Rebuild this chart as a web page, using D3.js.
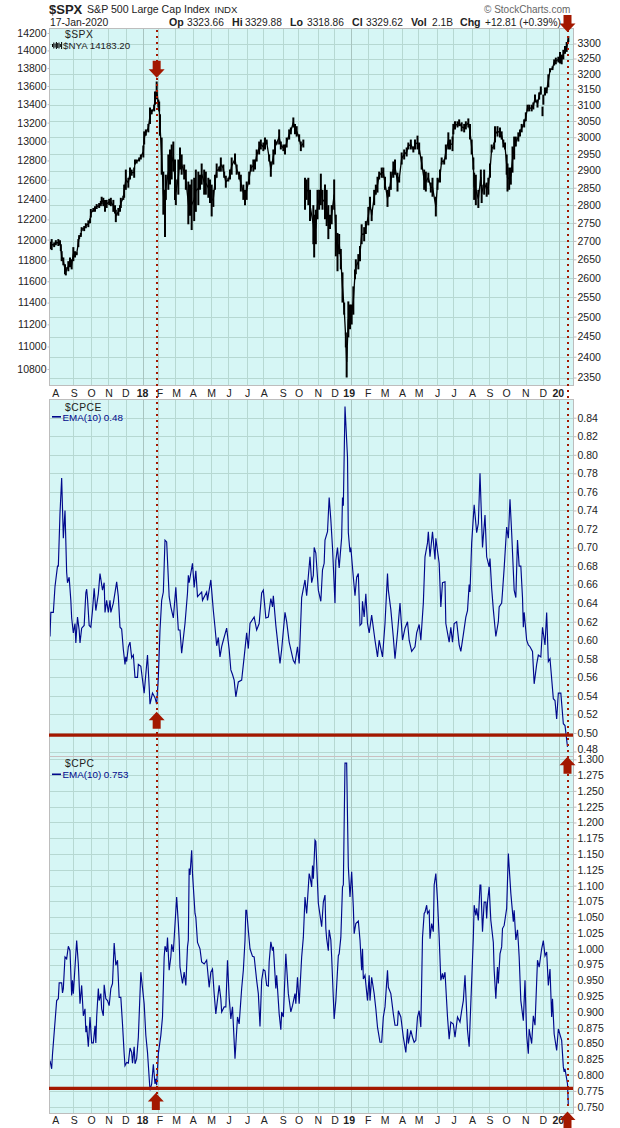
<!DOCTYPE html>
<html>
<head>
<meta charset="utf-8">
<title>$SPX with $CPCE and $CPC</title>
<script src="https://cdn.jsdelivr.net/npm/d3@7"></script>
<style>
  html, body { margin: 0; padding: 0; background: #fff; }
  svg { display: block; }
  text { font-family: "Liberation Sans", Arial, sans-serif; fill: #222; }
</style>
</head>
<body>
<svg id="chart" width="620" height="1128"></svg>
<script>
// Month gridlines and labels, in trading sessions from the left edge of the chart
const gridDays = [28, 49, 70, 91, 111, 129, 150, 171, 193, 214, 236, 256, 279, 298,
  321, 341, 361, 381, 400, 422, 442, 464, 484, 506, 527, 548, 571, 591, 611];
const yearDays = [111, 361, 611];
const monthLabelDays = [7, 29, 50, 71, 91, 111, 132, 152, 172, 194, 215, 237, 257, 280, 299,
  322, 342, 359, 382, 402, 423, 443, 465, 485, 507, 528, 548, 571, 592, 610];
const monthLabels = ["A", "S", "O", "N", "D", "18", "F", "M", "A", "M", "J", "J", "A", "S", "O",
  "N", "D", "19", "F", "M", "A", "M", "J", "J", "A", "S", "O", "N", "D", "20"];
const yearLabels = ["18", "19", "20"];

// Axis ticks
const spxTicks = [3300, 3250, 3200, 3150, 3100, 3050, 3000, 2950, 2900, 2850, 2800, 2750, 2700,
  2650, 2600, 2550, 2500, 2450, 2400, 2350];
const nyaTicks = [14200, 14000, 13800, 13600, 13400, 13200, 13000, 12800, 12600, 12400, 12200,
  12000, 11800, 11600, 11400, 11200, 11000, 10800];
const cpceTicks = [0.84, 0.82, 0.80, 0.78, 0.76, 0.74, 0.72, 0.70, 0.68, 0.66, 0.64, 0.62, 0.60,
  0.58, 0.56, 0.54, 0.52, 0.50, 0.48];
const cpcTicks = [1.300, 1.275, 1.250, 1.225, 1.200, 1.175, 1.150, 1.125, 1.100, 1.075, 1.050,
  1.025, 1.000, 0.975, 0.950, 0.925, 0.900, 0.875, 0.850, 0.825, 0.800, 0.775, 0.750];

// $SPX daily range
const priceDay = [0, 2, 5, 7, 10, 12, 13, 14, 16, 18, 19, 22, 24, 26, 28, 30, 32, 34, 35, 37, 38, 41, 43, 46, 48, 49,
  52, 54, 56, 59, 61, 62, 64, 66, 68, 71, 73, 76, 78, 79, 82, 84, 85, 88, 89, 91, 94, 96, 98, 101, 102, 104, 107, 109,
  112, 113, 115, 118, 120, 122, 125, 126, 128, 130, 131, 132, 134, 136, 138, 139, 142, 144, 146, 148, 150, 151, 154,
  156, 158, 161, 163, 166, 168, 170, 173, 175, 178, 180, 182, 185, 187, 190, 192, 194, 196, 198, 200, 203, 205, 208,
  209, 211, 214, 216, 218, 222, 224, 227, 229, 232, 234, 236, 239, 241, 244, 246, 248, 251, 253, 256, 258, 260, 263,
  265, 268, 270, 272, 275, 277, 280, 282, 284, 287, 289, 292, 294, 296, 299, 301, 304, 306, 308, 310,
  312, 316, 317, 319, 321, 323, 325, 327, 330, 332, 334, 336, 338, 341, 343, 345, 347, 349, 351, 353, 355, 356, 358,
  360, 362, 364, 366, 367, 370, 372, 374, 377, 379, 382, 384, 386, 389, 391, 393, 395, 398, 400, 402, 405, 407, 409,
  412, 414, 417, 419, 422, 425, 428, 430, 433, 436, 438, 441, 443, 446, 449, 451, 454, 457, 459, 463, 465, 468, 470,
  473, 475, 478, 480, 483, 484, 486, 489, 491, 494, 497, 499, 502, 504, 506, 508, 509, 511, 514, 517, 518, 521, 524,
  526, 528, 530, 533, 534, 537, 540, 542, 544, 546, 548, 549, 551, 553, 555, 557, 559, 562, 564, 566, 569, 571, 573,
  575, 578, 580, 582, 585, 587, 589, 591, 592, 594, 596, 598, 600, 603, 605, 607, 610, 612, 614, 616, 618, 620, 622];
const priceHigh = [2698, 2705, 2696, 2702, 2705, 2702, 2691, 2672, 2655, 2637, 2629, 2645, 2655, 2650, 2683, 2672, 2669,
  2705, 2716, 2722, 2738, 2741, 2749, 2757, 2762, 2789, 2792, 2797, 2803, 2806, 2812, 2824, 2821, 2815, 2815, 2818,
  2821, 2815, 2800, 2787, 2792, 2800, 2821, 2827, 2859, 2903, 2879, 2909, 2903, 2909, 2933, 2933, 2939, 2948, 2975,
  3018, 3024, 3041, 3092, 3086, 3101, 3143, 3175, 3117, 3111, 3071, 2999, 2897, 2844, 2888, 2948, 2963, 2978, 2987,
  2933, 2874, 2933, 2969, 2948, 2918, 2903, 2868, 2859, 2874, 2879, 2903, 2897, 2888, 2921, 2903, 2897, 2879, 2874,
  2859, 2844, 2888, 2921, 2912, 2939, 2918, 2897, 2885, 2879, 2903, 2939, 2951, 2918, 2897, 2888, 2859, 2844, 2868,
  2897, 2918, 2933, 2933, 2963, 2987, 2993, 2984, 2999, 2993, 2948, 2927, 2963, 2993, 2987, 3024, 2987, 2978, 2978,
  2999, 3024, 3030, 3061, 3041, 3034, 3009, 2987, 2993, 2879, 2874, 2879,
  2844, 2800, 2773, 2787, 2844, 2844, 2891, 2844, 2859, 2844, 2800, 2773, 2800, 2874, 2773, 2722, 2719, 2678, 2615,
  2536, 2460, 2425, 2539, 2531, 2531, 2578, 2623, 2650, 2664, 2686, 2746, 2738, 2755, 2795, 2824, 2787, 2844, 2859,
  2882, 2897, 2909, 2909, 2882, 2844, 2853, 2897, 2927, 2933, 2894, 2882, 2954, 2963, 2969, 2984, 2993, 2972, 2993,
  3005, 2984, 2942, 2903, 2897, 2894, 2865, 2879, 2824, 2879, 2903, 2939, 2933, 2978, 3015, 2993, 3002, 3041, 3049,
  3049, 3055, 3046, 3041, 3049, 3058, 3041, 2993, 2939, 2894, 2888, 2844, 2903, 2859, 2903, 2865, 2879, 2921, 2978,
  2984, 3034, 3034, 3030, 3018, 2993, 2984, 2948, 2921, 2909, 2909, 2972, 3002, 3002, 3015, 3024, 3041, 3055, 3077,
  3101, 3101, 3101, 3108, 3133, 3117, 3140, 3159, 3095, 3133, 3156, 3156, 3198, 3218, 3224, 3247, 3253, 3256, 3272,
  3263, 3279, 3292, 3305, 3325];
const priceLow = [2678, 2675, 2683, 2688, 2686, 2688, 2672, 2645, 2634, 2610, 2607, 2618, 2629, 2623, 2645, 2655, 2661,
  2683, 2705, 2711, 2727, 2727, 2735, 2738, 2749, 2765, 2781, 2781, 2789, 2792, 2797, 2803, 2797, 2781, 2792, 2800,
  2797, 2781, 2776, 2752, 2770, 2781, 2792, 2815, 2821, 2844, 2850, 2874, 2885, 2879, 2918, 2921, 2927, 2933, 2939,
  2978, 3005, 3015, 3041, 3071, 3080, 3101, 3118, 3092, 3080, 3005, 2888, 2773, 2711, 2815, 2844, 2859, 2874, 2897,
  2815, 2800, 2830, 2903, 2888, 2874, 2844, 2746, 2770, 2730, 2755, 2781, 2800, 2844, 2859, 2830, 2830, 2821, 2806,
  2768, 2795, 2844, 2879, 2897, 2897, 2897, 2879, 2850, 2868, 2874, 2888, 2918, 2888, 2874, 2839, 2815, 2800, 2815,
  2859, 2897, 2897, 2903, 2927, 2948, 2963, 2958, 2963, 2978, 2927, 2882, 2918, 2948, 2978, 2978, 2963, 2958, 2948,
  2969, 2993, 3009, 3030, 3009, 3002, 2987, 2958, 2969, 2787, 2815, 2800,
  2755, 2691, 2655, 2691, 2760, 2787, 2800, 2787, 2760, 2741, 2705, 2733, 2746, 2787, 2658, 2618, 2664, 2623, 2536,
  2505, 2423, 2350, 2448, 2468, 2480, 2505, 2597, 2610, 2623, 2645, 2691, 2699, 2719, 2743, 2787, 2755, 2800, 2830,
  2836, 2874, 2879, 2879, 2844, 2795, 2824, 2844, 2879, 2888, 2839, 2865, 2918, 2933, 2942, 2963, 2963, 2954, 2963,
  2963, 2948, 2903, 2844, 2839, 2865, 2836, 2824, 2768, 2844, 2865, 2918, 2918, 2933, 2963, 2963, 2958, 3009, 3024,
  3030, 3034, 3018, 3015, 3024, 3030, 2993, 2948, 2903, 2815, 2800, 2792, 2859, 2806, 2830, 2824, 2830, 2879, 2954,
  2963, 2984, 3002, 2999, 2993, 2969, 2963, 2888, 2839, 2844, 2859, 2894, 2933, 2972, 2987, 3002, 3015, 3030, 3049,
  3080, 3080, 3080, 3086, 3108, 3092, 3117, 3133, 3065, 3101, 3130, 3137, 3156, 3205, 3212, 3227, 3231, 3237, 3234,
  3231, 3247, 3266, 3272, 3305];
// Sessions where the bars in the picture jump without touching
const priceBreaks = [306, 591, 592];

// $CPCE EMA(10), turning points
const cpceDay = [0, 1, 4, 6, 9, 10, 12, 14, 16, 18, 20, 21, 23, 25, 26, 28, 30, 31, 33, 35, 36, 38, 41, 43, 44, 45, 47,
  49, 51, 53, 55, 58, 60, 63, 65, 66, 68, 70, 72, 73, 76, 80, 82, 84, 86, 88, 90, 91, 92, 94, 96, 98, 100, 102, 105,
  106, 109, 113, 117, 119, 120, 123, 126, 128, 130, 132, 134, 136, 138, 140, 143, 145, 148, 151, 154, 156, 158, 162,
  165, 166, 167, 171, 173, 175, 177, 182, 183, 188, 189, 193, 195, 196, 198, 200, 202, 204, 206, 208, 212, 215, 217,
  219, 221, 223, 226, 230, 233, 236, 238, 240, 245, 248, 251, 254, 256, 259, 262, 265, 267, 268, 271, 276, 278, 282,
  284, 287, 292, 294, 297, 299, 302, 306, 308,
  312, 314, 316, 317, 319, 322, 325, 327, 329, 330, 333, 335, 337, 339, 342, 343, 345, 347, 350, 351, 352, 354, 357,
  358, 360, 361, 364, 366, 368, 370, 372, 374, 375, 377, 379, 381, 383, 386, 390, 393, 395, 399, 402, 405, 406, 409,
  412, 414, 417, 420, 423, 426, 429, 431, 434, 438, 440, 443, 445, 448, 450, 453, 454, 456, 459, 462, 463, 467, 469,
  471, 474, 475, 479, 481, 483, 485, 488, 491, 493, 496, 499, 501, 503, 504, 506, 509, 512, 514, 516, 519, 522, 524,
  527, 528, 530, 532, 535, 538, 539, 542, 543, 545, 548, 550, 552, 554, 557, 559, 561, 563, 565, 567, 568, 569, 572,
  574, 576, 579, 581, 584, 586, 589, 591, 594, 596, 598, 600, 604, 606, 608, 610, 613, 616, 618, 621];
const cpceValue = [0.604, 0.63, 0.63, 0.658, 0.68, 0.68, 0.737, 0.775, 0.71, 0.74, 0.673, 0.662, 0.668, 0.643, 0.624,
  0.608, 0.618, 0.597, 0.625, 0.611, 0.597, 0.613, 0.616, 0.651, 0.655, 0.645, 0.616, 0.614, 0.632, 0.656, 0.632,
  0.65, 0.672, 0.654, 0.662, 0.63, 0.643, 0.63, 0.643, 0.63, 0.64, 0.663, 0.647, 0.614, 0.612, 0.59, 0.574, 0.582,
  0.577, 0.593, 0.598, 0.581, 0.584, 0.56, 0.56, 0.574, 0.572, 0.543, 0.584, 0.55, 0.531, 0.543, 0.538, 0.531, 0.56,
  0.611, 0.643, 0.652, 0.708, 0.706, 0.647, 0.636, 0.624, 0.657, 0.611, 0.611, 0.586, 0.618, 0.651, 0.67, 0.662,
  0.683, 0.657, 0.675, 0.647, 0.652, 0.643, 0.652, 0.643, 0.665, 0.643, 0.632, 0.614, 0.594, 0.603, 0.582, 0.593,
  0.60, 0.613, 0.59, 0.568, 0.563, 0.557, 0.539, 0.555, 0.557, 0.582, 0.608, 0.591, 0.618, 0.625, 0.611, 0.618,
  0.651, 0.654, 0.624, 0.625, 0.645, 0.636, 0.648, 0.616, 0.575, 0.59, 0.63, 0.62, 0.598, 0.578, 0.575, 0.593, 0.575,
  0.646, 0.665, 0.648,
  0.69, 0.662, 0.67, 0.70, 0.694, 0.654, 0.642, 0.676, 0.683, 0.708, 0.717, 0.754, 0.73, 0.70, 0.64, 0.686, 0.70,
  0.678, 0.711, 0.754, 0.745, 0.852, 0.797, 0.716, 0.695, 0.70, 0.668, 0.648, 0.668, 0.672, 0.616, 0.618, 0.642,
  0.625, 0.65, 0.618, 0.608, 0.627, 0.60, 0.582, 0.60, 0.582, 0.618, 0.672, 0.654, 0.633, 0.603, 0.58, 0.608, 0.64,
  0.60, 0.613, 0.62, 0.60, 0.588, 0.593, 0.608, 0.617, 0.60, 0.64, 0.69, 0.705, 0.717, 0.69, 0.717, 0.687, 0.71,
  0.683, 0.636, 0.662, 0.663, 0.618, 0.598, 0.614, 0.598, 0.618, 0.62, 0.595, 0.588, 0.606, 0.625, 0.632, 0.66, 0.652,
  0.705, 0.746, 0.716, 0.726, 0.78, 0.70, 0.735, 0.69, 0.679, 0.688, 0.656, 0.633, 0.604, 0.62, 0.636, 0.64, 0.652,
  0.678, 0.722, 0.71, 0.752, 0.716, 0.654, 0.646, 0.708, 0.68, 0.68, 0.646, 0.614, 0.63, 0.60, 0.595, 0.593, 0.588,
  0.553, 0.574, 0.584, 0.582, 0.614, 0.595, 0.63, 0.577, 0.58, 0.537, 0.535, 0.515, 0.543, 0.543, 0.51, 0.508, 0.485];

// $CPC EMA(10), turning points
const cpcDay = [0, 2, 3, 4, 8, 10, 11, 14, 15, 16, 18, 20, 22, 24, 26, 27, 28, 30, 32, 34, 36, 38, 40, 42, 43, 44, 46,
  48, 50, 52, 54, 55, 56, 58, 59, 61, 62, 64, 65, 67, 69, 71, 73, 75, 77, 79, 81, 83, 85, 87, 89, 90, 92, 94, 96, 98,
  99, 101, 102, 104, 106, 109, 113, 115, 117, 120, 122, 124, 126, 127, 128, 130, 133, 135, 137, 138, 140, 141, 143,
  145, 146, 148, 152, 154, 155, 156, 159, 161, 163, 165, 166, 167, 168, 170, 171, 174, 175, 177, 180, 182, 185, 188,
  191, 193, 195, 197, 199, 203, 205, 206, 209, 211, 213, 215, 217, 219, 222, 225, 227, 230, 232, 234, 235, 236, 238,
  240, 243, 245, 248, 250, 252, 254, 256, 258, 260, 262, 263, 265, 267, 268, 271, 272, 275, 277, 278, 280, 283, 286,
  289, 291, 294, 295, 297, 299, 302, 304, 306, 308, 311,
  312, 314, 315, 316, 318, 319, 321, 322, 326, 328, 330, 331, 332, 334, 335, 337, 338, 341, 343, 346, 347, 349, 351,
  352, 354, 356, 357, 358, 360, 362, 364, 365, 367, 370, 372, 374, 375, 376, 378, 381, 383, 384, 386, 389, 391, 393,
  396, 398, 400, 402, 405, 406, 409, 412, 414, 417, 418, 421, 424, 427, 429, 430, 433, 435, 437, 439, 441, 443, 445,
  447, 449, 450, 452, 453, 455, 456, 458, 460, 461, 463, 465, 467, 469, 471, 472, 474, 477, 479, 481, 484, 486, 489,
  492, 494, 496, 498, 501, 503, 508, 509, 511, 512, 514, 516, 517, 519, 521, 523, 524, 525, 527, 529, 532, 533, 535,
  537, 538, 540, 542, 543, 545, 548, 550, 553, 556, 557, 559, 561, 562, 563, 565, 568, 570, 572, 574, 575, 578, 580,
  582, 585, 587, 590, 592, 594, 596, 598, 600, 602, 603, 605, 608, 610, 614, 616, 617, 618, 621, 622];
const cpcValue = [0.823, 0.81, 0.833, 0.85, 0.918, 0.921, 0.946, 0.946, 0.93, 0.937, 0.987, 0.984, 1.004, 0.997, 0.926,
  0.95, 0.929, 0.971, 1.013, 0.976, 0.913, 0.942, 0.894, 0.905, 0.868, 0.878, 0.845, 0.892, 0.851, 0.851, 0.878,
  0.851, 0.892, 0.937, 0.918, 0.929, 0.905, 0.894, 0.943, 0.921, 0.918, 0.91, 0.937, 0.945, 1.009, 0.974, 0.982,
  0.923, 0.923, 0.881, 0.834, 0.815, 0.82, 0.819, 0.843, 0.836, 0.819, 0.845, 0.818, 0.826, 0.86, 0.963, 0.913, 0.863,
  0.836, 0.776, 0.786, 0.817, 0.786, 0.794, 0.784, 0.834, 0.863, 0.892, 0.987, 1.004, 0.995, 1.018, 0.966, 0.987,
  1.007, 0.995, 1.082, 1.04, 1.014, 0.971, 0.945, 0.963, 0.942, 1.003, 1.014, 1.127, 1.117, 1.156, 1.119, 1.056, 1.05,
  1.01, 1.0, 0.979, 0.976, 0.982, 0.939, 0.963, 0.968, 0.929, 0.897, 0.942, 0.921, 0.90, 0.908, 0.908, 0.982, 0.923,
  0.889, 0.908, 0.826, 0.892, 0.881, 0.937, 0.966, 1.013, 1.061, 1.061, 1.029, 1.0, 0.988, 0.987, 0.95, 0.929, 0.877,
  0.95, 0.967, 0.965, 0.942, 0.941, 0.979, 1.011, 0.997, 1.003, 0.937, 0.958, 0.897, 0.872, 0.90, 0.892, 0.992, 0.929,
  0.90, 0.91, 0.929, 0.913, 0.955, 0.913, 0.987, 1.018, 1.082, 1.056, 1.119,
  1.114, 1.098, 1.132, 1.111, 1.172, 1.17, 1.103, 1.072, 1.035, 1.074, 1.085, 1.032, 1.016, 0.997, 1.03, 1.014, 0.987,
  0.889, 0.918, 0.989, 0.992, 1.018, 1.098, 1.101, 1.294, 1.294, 1.209, 1.13, 1.082, 1.122, 1.066, 1.024, 1.04, 1.044,
  1.014, 0.966, 1.0, 0.952, 0.958, 0.918, 0.958, 0.918, 0.955, 0.929, 0.905, 0.876, 0.852, 0.852, 0.892, 0.908, 0.966,
  0.939, 0.929, 0.897, 0.879, 0.879, 0.902, 0.892, 0.86, 0.836, 0.873, 0.85, 0.871, 0.86, 0.852, 0.855, 0.892, 0.902,
  0.876, 1.018, 1.056, 1.058, 1.069, 1.056, 1.06, 1.016, 1.04, 1.027, 1.101, 1.119, 1.077, 1.018, 0.95, 0.961, 0.952,
  0.963, 0.892, 0.857, 0.884, 0.881, 0.86, 0.892, 0.884, 0.902, 0.918, 0.958, 0.871, 0.845, 1.018, 1.069, 1.053, 1.064,
  1.045, 1.101, 1.101, 1.027, 1.074, 1.074, 1.048, 1.074, 1.098, 1.045, 1.01, 0.966, 0.921, 0.971, 0.945, 0.992, 1.003,
  1.032, 1.037, 1.064, 1.151, 1.088, 1.043, 1.061, 1.014, 1.03, 1.01, 0.987, 0.918, 0.886, 0.95, 0.863, 0.834, 0.873,
  0.85, 0.894, 0.879, 0.982, 0.971, 1.0, 1.013, 0.989, 0.995, 0.942, 0.968, 0.892, 0.921, 0.865, 0.839, 0.873, 0.855,
  0.813, 0.805, 0.81, 0.786, 0.752];

// Red annotations: support lines, dotted markers and arrows (tip value on the panel scale)
const markerDays = [128, 621];
const cpceSupport = 0.4976;
const cpcSupport = 0.779;
const spxArrows = [{ day: 128, tip: 3187, dir: "down" }, { day: 621, tip: 3339, dir: "down" }];
const cpceArrows = [{ day: 128, tip: 0.523, dir: "up" }];
const cpcArrows = [{ day: 621, tip: 1.304, dir: "up" }, { day: 127, tip: 0.7717, dir: "up" }, { day: 621, tip: 0.7424, dir: "up" }];

const RED = "#a31800";
const NAVY = "#00088c";
const PANEL_BG = "#d6f6f5";
const GRID = "#b6d8d2";
const YEAR_GRID = "#a8c4c0";
const BORDER = "#bdbdbd";

const svg = d3.select("#chart");
const left = 49.5, right = 573.5;

// x is shared by all three panels
const x = d3.scaleLinear().domain([0, 628.8]).range([50, 574]);

const panels = [
  { top: 28.5, bottom: 385.5 },
  { top: 399.5, bottom: 756.5 },
  { top: 756.5, bottom: 1113.5 }
];

const ySpx = d3.scaleLog().domain([3300, 2350]).range([43.5, 377.5]);
const yNya = d3.scaleLog().domain([14200, 10800]).range([33, 369]);
const yCpce = d3.scaleLinear().domain([0.84, 0.48]).range([417.7, 751.5]);
const yCpc = d3.scaleLinear().domain([1.3, 0.75]).range([759.3, 1106.7]);

// Panel background and gridlines
function drawPanel(panel, scale, ticks) {
  const g = svg.append("g");
  g.append("rect")
    .attr("x", left).attr("y", panel.top)
    .attr("width", right - left).attr("height", panel.bottom - panel.top)
    .attr("fill", PANEL_BG);
  g.selectAll("line.h").data(ticks).join("line")
    .attr("x1", left).attr("x2", right)
    .attr("y1", d => Math.round(scale(d)) + 0.5).attr("y2", d => Math.round(scale(d)) + 0.5)
    .attr("stroke", GRID);
  g.selectAll("line.v").data(gridDays).join("line")
    .attr("x1", d => Math.round(x(d)) + 0.5).attr("x2", d => Math.round(x(d)) + 0.5)
    .attr("y1", panel.top).attr("y2", panel.bottom)
    .attr("stroke", d => yearDays.includes(d) ? YEAR_GRID : GRID);
}

drawPanel(panels[0], ySpx, spxTicks);
drawPanel(panels[1], yCpce, cpceTicks);
drawPanel(panels[2], yCpc, cpcTicks);

// Daily range bars of $SPX
svg.append("g").selectAll("line").data(priceDay).join("line")
  .attr("x1", d => x(d)).attr("x2", d => x(d))
  .attr("y1", (d, i) => ySpx(priceHigh[i]))
  .attr("y2", (d, i) => ySpx(priceLow[i]))
  .attr("stroke", "#000").attr("stroke-width", 2);

// Closes between bars so the trace stays unbroken, as the daily bars do in the picture
const priceMid = d3.line()
  .defined(d => !priceBreaks.includes(d[0]))
  .x(d => x(d[0]))
  .y(d => (ySpx(d[1]) + ySpx(d[2])) / 2);
svg.append("path")
  .datum(priceDay.map((d, i) => [d, priceHigh[i], priceLow[i]]))
  .attr("d", priceMid)
  .attr("fill", "none")
  .attr("stroke", "#000")
  .attr("stroke-width", 1.3);

// EMA lines
function drawEma(days, values, scale) {
  const line = d3.line().x(d => x(d[0])).y(d => scale(d[1]));
  svg.append("path")
    .datum(days.map((d, i) => [d, values[i]]))
    .attr("d", line)
    .attr("fill", "none")
    .attr("stroke", NAVY)
    .attr("stroke-width", 1.15);
}
drawEma(cpceDay, cpceValue, yCpce);
drawEma(cpcDay, cpcValue, yCpc);

// Panel borders
panels.forEach(p => {
  svg.append("rect")
    .attr("x", left).attr("y", p.top)
    .attr("width", right - left).attr("height", p.bottom - p.top)
    .attr("fill", "none").attr("stroke", BORDER);
});
svg.append("line").attr("x1", left).attr("x2", right)
  .attr("y1", panels[1].bottom).attr("y2", panels[1].bottom)
  .attr("stroke", "#cabfc0");

// Axes
function styleAxis(g) {
  g.select(".domain").remove();
  g.selectAll(".tick line").attr("stroke", BORDER);
  g.selectAll(".tick text").style("font-size", "10.5px").style("fill", "#222");
}
svg.append("g").attr("transform", `translate(${right},0)`)
  .call(d3.axisRight(ySpx).tickValues(spxTicks).tickFormat(d3.format("d")).tickSize(3).tickPadding(1))
  .call(styleAxis);
svg.append("g").attr("transform", `translate(${left},0)`)
  .call(d3.axisLeft(yNya).tickValues(nyaTicks).tickFormat(d3.format("d")).tickSize(2).tickPadding(1))
  .call(styleAxis);
// 0.48 sits just above 1.300 in the picture, nudged up so the two do not collide
svg.append("g").attr("transform", `translate(${right},0)`)
  .call(d3.axisRight(yCpce).tickValues(cpceTicks).tickFormat(d3.format(".2f")).tickSize(3).tickPadding(1))
  .call(styleAxis)
  .call(g => g.selectAll(".tick text").filter(d => d === 0.48).attr("dy", "0.1em"));
svg.append("g").attr("transform", `translate(${right},0)`)
  .call(d3.axisRight(yCpc).tickValues(cpcTicks).tickFormat(d3.format(".3f")).tickSize(3).tickPadding(1))
  .call(styleAxis);

// Month labels under the first and last panels
[396.5, 1124].forEach(rowY => {
  svg.append("g").selectAll("text").data(monthLabels).join("text")
    .attr("x", (d, i) => x(monthLabelDays[i]))
    .attr("y", rowY)
    .attr("text-anchor", "middle")
    .attr("font-size", 10.5)
    .attr("font-weight", d => yearLabels.includes(d) ? "bold" : "normal")
    .text(d => d);
});

// Support lines
[[yCpce, cpceSupport], [yCpc, cpcSupport]].forEach(([scale, v]) => {
  svg.append("line")
    .attr("x1", left - 0.5).attr("x2", right - 0.5)
    .attr("y1", scale(v)).attr("y2", scale(v))
    .attr("stroke", RED).attr("stroke-width", 3.2);
});

// Dotted markers through the whole chart
svg.selectAll("line.marker").data(markerDays).join("line")
  .attr("class", "marker")
  .attr("x1", d => Math.round(x(d))).attr("x2", d => Math.round(x(d)))
  .attr("y1", 30).attr("y2", 1110)
  .attr("stroke", RED).attr("stroke-width", 2)
  .attr("stroke-dasharray", "2 4")
  .attr("shape-rendering", "crispEdges");

// Block arrows
function arrowPath(d, scale) {
  const s = d.dir === "down" ? -1 : 1;
  const cx = x(d.day), tip = scale(d.tip);
  const p = d3.path();
  p.moveTo(cx, tip);
  p.lineTo(cx + 8, tip + s * 8.5);
  p.lineTo(cx + 4, tip + s * 8.5);
  p.lineTo(cx + 4, tip + s * 17);
  p.lineTo(cx - 4, tip + s * 17);
  p.lineTo(cx - 4, tip + s * 8.5);
  p.lineTo(cx - 8, tip + s * 8.5);
  p.closePath();
  return p.toString();
}
[[spxArrows, ySpx], [cpceArrows, yCpce], [cpcArrows, yCpc]].forEach(([list, scale]) => {
  svg.append("g").selectAll("path").data(list).join("path")
    .attr("d", d => arrowPath(d, scale))
    .attr("fill", RED);
});

// Heading rows
function label(xPos, y, str, opts = {}) {
  return svg.append("text")
    .attr("x", xPos).attr("y", y)
    .attr("font-size", opts.size || 10.5)
    .attr("font-weight", opts.bold ? "bold" : "normal")
    .style("letter-spacing", opts.spacing || "0")
    .style("fill", opts.color || "#222")
    .text(str);
}
label(49, 14, "$SPX", { size: 13, bold: true });
label(87, 13, "S&P 500 Large Cap Index", { size: 10.6 });
label(214.5, 13, "INDX", { size: 9.6 });
label(50, 25.5, "17-Jan-2020", { size: 10.4 });
[[169, "Op"], [232, "Hi"], [290, "Lo"], [352, "Cl"], [411, "Vol"], [460, "Chg"]].forEach(([p, s]) => label(p, 25.5, s, { bold: true, size: 10.6 }));
[[187, "3323.66"], [245, "3329.88"], [307, "3318.86"], [366, "3329.62"], [432, "2.1B"], [485, "+12.81 (+0.39%)"]].forEach(([p, s]) => label(p, 25.5, s, { size: 10.2 }));
label(484, 13, "\u00A9 StockCharts.com", { size: 10, color: "#666" });

// Panel legends
label(65, 38, "$SPX", { size: 10.3, spacing: "0.5px" });
label(63, 49, "$NYA 14183.20", { size: 9.7 });
label(65, 410.5, "$CPCE", { size: 10.3, spacing: "0.5px" });
label(62.5, 421, "EMA(10) 0.48", { size: 9.8, color: NAVY });
label(65, 767, "$CPC", { size: 10.3, spacing: "0.5px" });
label(62.5, 778, "EMA(10) 0.753", { size: 9.8, color: NAVY });
svg.append("rect").attr("x", 52).attr("y", 416).attr("width", 9).attr("height", 1.6).attr("fill", NAVY);
svg.append("rect").attr("x", 52).attr("y", 773.5).attr("width", 9).attr("height", 1.6).attr("fill", NAVY);

// Little bar glyph next to $NYA
const glyphBars = [3, 6, 4, 7, 5, 6, 3, 7];
svg.append("g").selectAll("line").data(glyphBars).join("line")
  .attr("x1", (d, i) => 52.5 + i * 1.3).attr("x2", (d, i) => 52.5 + i * 1.3)
  .attr("y1", d => 45.5 - d / 2).attr("y2", d => 45.5 + d / 2)
  .attr("stroke", "#000").attr("stroke-width", 1);
</script>
</body>
</html>
